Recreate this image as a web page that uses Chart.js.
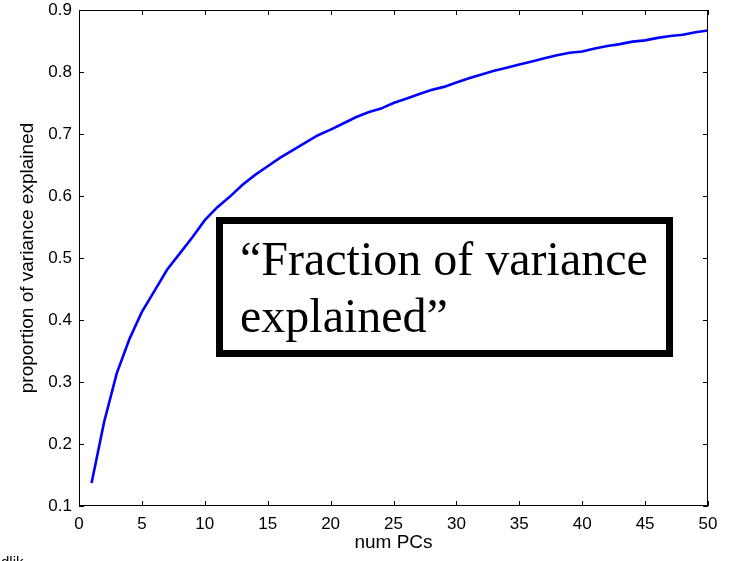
<!DOCTYPE html>
<html>
<head>
<meta charset="utf-8">
<script src="https://cdn.jsdelivr.net/npm/chart.js@4"></script>
<style>
  html, body { margin: 0; padding: 0; background: #fff; }
  #wrap { width: 729px; height: 561px; position: relative; }
</style>
</head>
<body>
<div id="wrap"><canvas id="chart" width="729" height="561"></canvas></div>
<script>
// number of principal components
let numPCs = [];
for (let i = 1; i <= 50; i++) numPCs.push(i);

// proportion of variance explained
let varExplained = [
  0.137, 0.236, 0.314, 0.369, 0.413, 0.447, 0.481, 0.507, 0.533, 0.561,
  0.582, 0.599, 0.618, 0.634, 0.648, 0.662, 0.674, 0.686, 0.698, 0.707,
  0.717, 0.727, 0.735, 0.741, 0.750, 0.757, 0.764, 0.771, 0.776, 0.783,
  0.790, 0.796, 0.802, 0.807, 0.812, 0.817, 0.822, 0.827, 0.831, 0.833,
  0.838, 0.842, 0.845, 0.849, 0.851, 0.855, 0.858, 0.860, 0.864, 0.867
];

let xTicks = [0, 5, 10, 15, 20, 25, 30, 35, 40, 45, 50];
let yTicks = [0.1, 0.2, 0.3, 0.4, 0.5, 0.6, 0.7, 0.8, 0.9];
let boxLines = ["\u201CFraction of variance", "explained\u201D"];
let cornerText = "dlik";

let points = numPCs.map((n, i) => ({x: n, y: varExplained[i]}));

// matlab style box with inward ticks + the text box
let matlabBox = {
  id: 'matlabBox',
  afterDraw(chart) {
    let ctx = chart.ctx;
    let a = chart.chartArea;
    let xs = chart.scales.x, ys = chart.scales.y;
    let len = 5;
    ctx.save();
    ctx.strokeStyle = '#000';
    ctx.lineWidth = 1;
    ctx.strokeRect(a.left + 0.5, a.top + 0.5, a.right - a.left - 1, a.bottom - a.top - 1);
    ctx.beginPath();
    xTicks.forEach(v => {
      let px = Math.round(xs.getPixelForValue(v)) + 0.5;
      ctx.moveTo(px, a.bottom); ctx.lineTo(px, a.bottom - len);
      ctx.moveTo(px, a.top); ctx.lineTo(px, a.top + len);
    });
    yTicks.forEach(v => {
      let py = Math.round(ys.getPixelForValue(v)) + 0.5;
      ctx.moveTo(a.left, py); ctx.lineTo(a.left + len, py);
      ctx.moveTo(a.right, py); ctx.lineTo(a.right - len, py);
    });
    ctx.stroke();

    // annotation box
    ctx.fillStyle = '#fff';
    ctx.fillRect(219, 220, 451, 134);
    ctx.lineWidth = 7;
    ctx.strokeRect(219.5, 220.5, 450, 133);
    ctx.fillStyle = '#000';
    ctx.font = '48px "Liberation Serif", "Times New Roman", serif';
    ctx.textBaseline = 'alphabetic';
    ctx.textAlign = 'left';
    ctx.fillText(boxLines[0], 240, 275);
    ctx.fillText(boxLines[1], 240, 332);

    ctx.font = '15px "Liberation Sans", Arial, sans-serif';
    ctx.textBaseline = 'top';
    ctx.fillText(cornerText, 1, 555);
    ctx.restore();
  }
};

let tickFont = {family: '"Liberation Sans", Arial, sans-serif', size: 17};
let titleFont = {family: '"Liberation Sans", Arial, sans-serif', size: 19};

let ctx = document.getElementById('chart');
let chart = new Chart(ctx, {
  type: 'line',
  data: {
    datasets: [{
      data: points,
      borderColor: '#0000ff',
      borderWidth: 2.6,
      pointRadius: 0,
      tension: 0,
      fill: false
    }]
  },
  options: {
    responsive: false,
    animation: false,
    layout: {padding: {left: 0, right: 21, top: 10, bottom: 0}},
    plugins: {legend: {display: false}, tooltip: {enabled: false}},
    scales: {
      x: {
        type: 'linear',
        min: 0, max: 50,
        afterBuildTicks: s => { s.ticks = xTicks.map(v => ({value: v})); },
        afterFit: s => { s.height = 55; s.paddingLeft = 0; s.paddingRight = 0; },
        grid: {display: false, drawTicks: false},
        border: {display: false},
        ticks: {color: '#000', font: tickFont, padding: 8, maxRotation: 0, autoSkip: false},
        title: {display: true, text: 'num PCs', color: '#000', font: titleFont, padding: {top: 2, bottom: 7}}
      },
      y: {
        min: 0.1, max: 0.9,
        afterBuildTicks: s => { s.ticks = yTicks.map(v => ({value: v})); },
        afterFit: s => { s.width = 79; s.paddingTop = 0; s.paddingBottom = 0; },
        grid: {display: false, drawTicks: false},
        border: {display: false},
        ticks: {color: '#000', font: tickFont, padding: 7, callback: v => v.toFixed(1)},
        title: {display: true, text: 'proportion of variance explained', color: '#000', font: titleFont, padding: {top: 16, bottom: 0}}
      }
    }
  },
  plugins: [matlabBox]
});
</script>
</body>
</html>
